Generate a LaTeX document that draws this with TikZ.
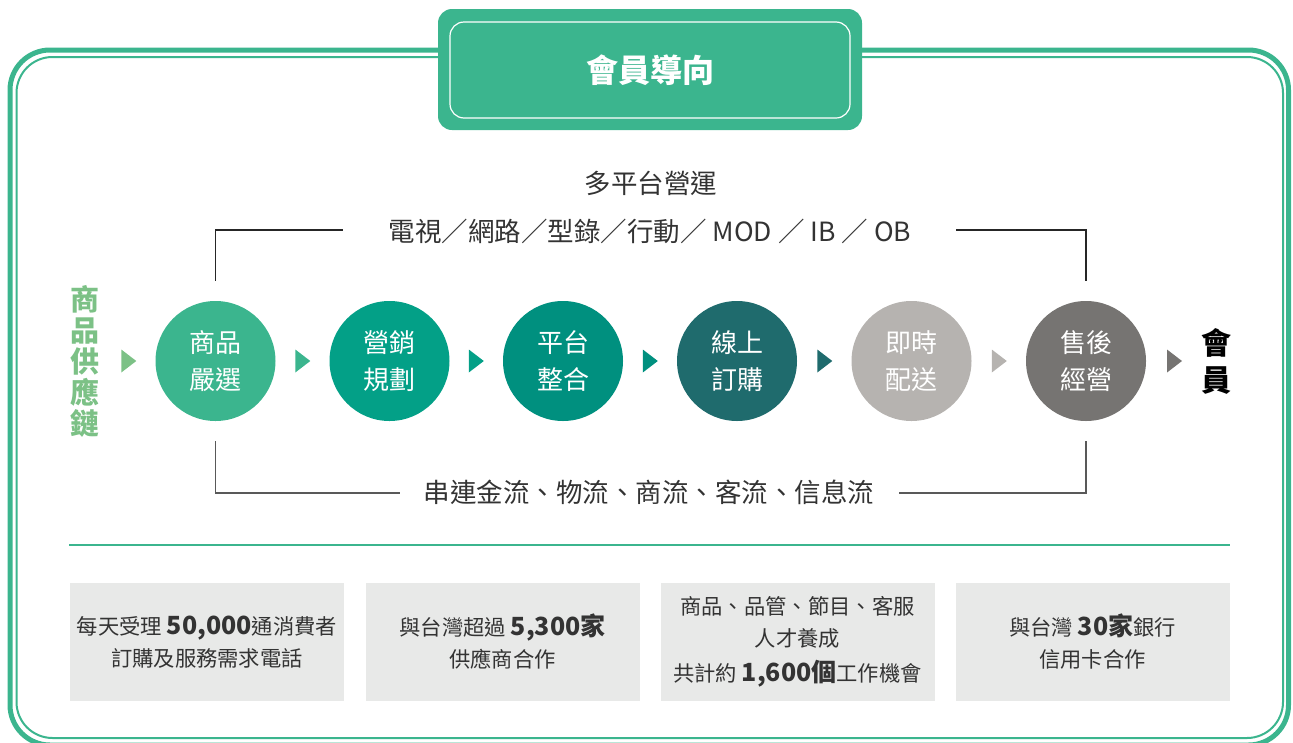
\documentclass[tikz,border=0pt]{standalone}
\usepackage{fontspec}
\setmainfont{Noto Sans CJK TC}
\definecolor{mgreen}{HTML}{3BB58E}
\definecolor{lgreen}{HTML}{7CC186}
\definecolor{cteal}{HTML}{03A087}
\definecolor{cteal2}{HTML}{00907F}
\definecolor{cdark}{HTML}{1F6B6D}
\definecolor{clgray}{HTML}{B6B3B0}
\definecolor{cdgray}{HTML}{767472}
\definecolor{boxgray}{HTML}{E8E9E8}
\definecolor{txt}{HTML}{333333}
\tikzset{
  stepcirc/.style={circle, minimum size=120pt, inner sep=0pt, text=white, align=center,
    font=\fontsize{26}{37}\selectfont},
  infobox/.style={rectangle, minimum width=274pt, minimum height=118pt, inner sep=0pt,
    fill=boxgray, text=txt, align=center, font=\fontsize{21.3}{32}\selectfont},
  bk/.style={draw=black!85, line width=1.1pt},
  bkg/.style={draw=black!65, line width=1.1pt},
  lbl/.style={text=txt, font=\fontsize{26.5}{30}\selectfont, inner sep=0pt}
}
\newcommand{\bnum}[1]{{\bfseries\fontsize{25}{30}\selectfont #1}}
\begin{document}
\begin{tikzpicture}[x=1pt, y=-1pt]
\useasboundingbox (0,0) rectangle (1293,742);
% outer frame
\draw[mgreen, line width=5pt, rounded corners=40pt] (10,50) rectangle (1288.5,745);
\draw[mgreen, line width=2pt, rounded corners=36pt] (16.5,57) rectangle (1283,738);
% header
\node[fill=mgreen, rounded corners=14pt, minimum width=424pt, minimum height=121pt, inner sep=0pt] (hdr) at (650,69.5) {};
\node[draw=white, line width=1.2pt, rounded corners=14pt, minimum width=400pt, minimum height=96pt, inner sep=0pt,
  text=white, font=\bfseries\fontsize{32}{36}\selectfont] (hdrin) at (650,70) {會員導向};
% top labels
\node[lbl] (multi) at (651,183) {多平台營運};
\node[lbl] (plat) at (650,231) {電視／網路／型錄／行動／ MOD ／ IB ／ OB};
\node[lbl] (flow) at (649,492) {串連金流、物流、商流、客流、信息流};
% circles
\node[stepcirc, fill=mgreen] (c1) at (215.5,361) {商品\\嚴選};
\node[stepcirc, fill=cteal] (c2) at (389.5,361) {營銷\\規劃};
\node[stepcirc, fill=cteal2] (c3) at (563,361) {平台\\整合};
\node[stepcirc, fill=cdark] (c4) at (737,361) {線上\\訂購};
\node[stepcirc, fill=clgray] (c5) at (911.5,361) {即時\\配送};
\node[stepcirc, fill=cdgray] (c6) at (1086,361) {售後\\經營};
% left vertical label
\node[text=lgreen, font=\bfseries\fontsize{29}{31}\selectfont, align=center, inner sep=0pt] (chain) at (85,361)
  {商\\品\\供\\應\\鏈};
% right label
\node[text=black, font=\bfseries\fontsize{30}{37}\selectfont, align=center, inner sep=0pt] (mem) at (1216,361) {會\\員};
% triangles
\foreach \c/\col in {c1/lgreen, c2/mgreen, c3/cteal, c4/cteal2, c5/cdark, c6/clgray}{
  \fill[\col] ([xshift=-34pt,yshift=11.5pt]\c.west) -- ([xshift=-19pt]\c.west) -- ([xshift=-34pt,yshift=-11.5pt]\c.west) -- cycle;
}
\coordinate (mw) at (1167,361);
\fill[cdgray] ([yshift=11.5pt]mw) -- ([xshift=15pt]mw) -- ([yshift=-11.5pt]mw) -- cycle;
% brackets
\coordinate (tl) at (343,230);
\coordinate (tr) at (956,230);
\coordinate (bl) at (400,493);
\coordinate (br) at (899,493);
\draw[bk] ([yshift=20pt]c1.north) |- (tl);
\draw[bk] ([yshift=20pt]c6.north) |- (tr);
\draw[bkg] ([yshift=-20pt]c1.south) |- (bl);
\draw[bkg] ([yshift=-20pt]c6.south) |- (br);
% separator
\coordinate (sl) at (69,545);
\coordinate (sr) at (1230,545);
\draw[mgreen, line width=2.5pt] (sl) -- (sr);
% info boxes
\node[infobox] (b1) at (207,642) {每天受理 \bnum{50,000}通消費者\\訂購及服務需求電話};
\node[infobox] (b2) at (502.5,642) {與台灣超過 \bnum{5,300}\bnum{家}\\供應商合作};
\node[infobox] (b3) at (797.5,642) {商品、品管、節目、客服\\人才養成\\[3pt]共計約 \bnum{1,600}\bnum{個}工作機會};
\node[infobox] (b4) at (1092.5,642) {與台灣 \bnum{30}\bnum{家}銀行\\信用卡合作};
\end{tikzpicture}
\end{document}
